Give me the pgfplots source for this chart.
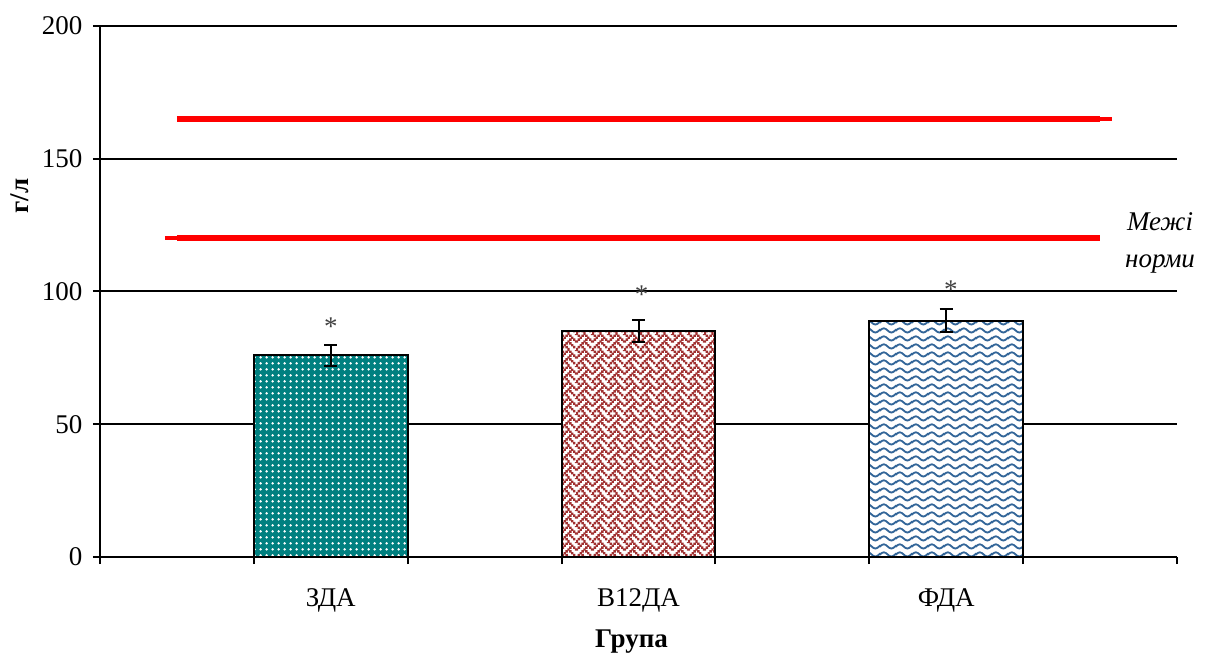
\documentclass[border=0pt]{standalone}
\usepackage{fontspec}
\setmainfont{Liberation Serif}
\usepackage{pgfplots}
\pgfplotsset{compat=1.18}
\usetikzlibrary{patterns.meta}

\definecolor{tealfill}{RGB}{0,128,128}
\definecolor{weavered}{RGB}{160,48,48}
\definecolor{waveblue}{RGB}{51,102,153}
\definecolor{normred}{RGB}{255,0,0}

% white dots on a teal ground
\tikzdeclarepattern{
  name=whitedots, type=uncolored,
  bottom left={(0pt,0pt)}, top right={(2.8pt,2.8pt)},
  tile size={(2.8pt,2.8pt)},
  code={\tikzset{x=1pt,y=1pt}\fill (1.4,1.4) circle (0.68);}
}

% basket weave, 8x8 cells of 1pt
\tikzdeclarepattern{
  name=weave, type=uncolored,
  bottom left={(0pt,0pt)}, top right={(8pt,8pt)},
  tile size={(8pt,8pt)},
  code={\tikzset{x=1pt,y=1pt}
    \foreach \c/\r in {0/0,4/0,1/1,3/1,5/1,2/2,6/2,1/3,5/3,7/3,0/4,4/4,3/5,5/5,2/6,6/6,1/7,3/7,7/7,8/0,8/4,0/8,4/8}
      {\fill (\c-0.12,7.88-\r) rectangle ++(1.24,1.24);}}
}

% wavy lines
\tikzdeclarepattern{
  name=wavelines, type=uncolored,
  bottom left={(0pt,0pt)}, top right={(8pt,4pt)},
  tile size={(8pt,4pt)},
  code={\tikzset{x=1pt,y=1pt}
    \draw[line width=1pt] (-2,0.8) cos (0,2) sin (2,3.2) cos (4,2) sin (6,0.8) cos (8,2) sin (10,3.2);}
}

\begin{document}
\begin{tikzpicture}
\useasboundingbox (-50pt,-48pt) rectangle (554pt,278.5pt);
\begin{axis}[
  at={(0,0)}, anchor=south west,
  scale only axis, width=538.5pt, height=265.5pt,
  xmin=0, xmax=7, ymin=0, ymax=200,
  axis x line*=bottom, axis y line*=left,
  axis line style={black, line width=1pt},
  clip=false,
  ytick={0,50,100,150,200},
  ymajorgrids, major grid style={black, line width=1pt},
  tick style={black, line width=1pt},
  tick align=outside, major tick length=3.5pt,
  xtick={0,...,7}, xticklabels={},
  extra x ticks={1.5,3.5,5.5},
  extra x tick labels={ЗДА,В12ДА,ФДА},
  extra x tick style={major tick length=0pt,
    xticklabel style={yshift=-12.5pt}},
  /pgf/number format/assume math mode=true,
  tick label style={font=\fontsize{13.5}{16}\selectfont},
  yticklabel style={xshift=-1.8pt},
  ylabel={г/л},
  ylabel style={font=\bfseries\fontsize{13.5}{16}\selectfont,
    at={(axis description cs:-0.0743,0.68)}, anchor=center},
  xlabel={Група},
  xlabel style={font=\bfseries\fontsize{13.5}{16}\selectfont,
    at={(axis description cs:0.5,0)}, anchor=base, yshift=-45pt, xshift=-3.5pt},
  error bars/error bar style={black, line width=1pt},
  error bars/error mark options={black, rotate=90, mark size=3.25pt, line width=1pt},
]

% normal range limits
\addplot[normred, line width=3pt] coordinates {(0.5,165) (6.5,165)};
\addplot[normred, line width=2pt] coordinates {(6.5,165) (6.577,165)};
\addplot[normred, line width=3pt] coordinates {(0.5,120) (6.5,120)};
\addplot[normred, line width=2pt] coordinates {(0.422,120) (0.5,120)};

% group means with error bars
\addplot[ybar, bar width=1, draw=black, line width=1pt,
  preaction={fill=tealfill}, pattern=whitedots, pattern color=white,
  error bars/.cd, y dir=both, y explicit]
  coordinates {(1.5,76) +- (0,4)};
\addplot[ybar, bar width=1, draw=black, line width=1pt,
  preaction={fill=white}, pattern=weave, pattern color=weavered,
  error bars/.cd, y dir=both, y explicit]
  coordinates {(3.5,85) +- (0,4.2)};
\addplot[ybar, bar width=1, draw=black, line width=1pt,
  preaction={fill=white}, pattern=wavelines, pattern color=waveblue,
  error bars/.cd, y dir=both, y explicit]
  coordinates {(5.5,89) +- (0,4.4)};

% significance marks
\node[font=\fontsize{13.5}{16}\selectfont, text=black!75, anchor=base] at (axis cs:1.5,83.3) {*};
\node[font=\fontsize{13.5}{16}\selectfont, text=black!75, anchor=base] at (axis cs:3.52,95.4) {*};
\node[font=\fontsize{13.5}{16}\selectfont, text=black!75, anchor=base] at (axis cs:5.53,97.5) {*};

\node[font=\itshape\fontsize{13.5}{18.5}\selectfont, align=center] at (axis cs:6.89,118.3) {Межі\\норми};
\end{axis}
\end{tikzpicture}
\end{document}
